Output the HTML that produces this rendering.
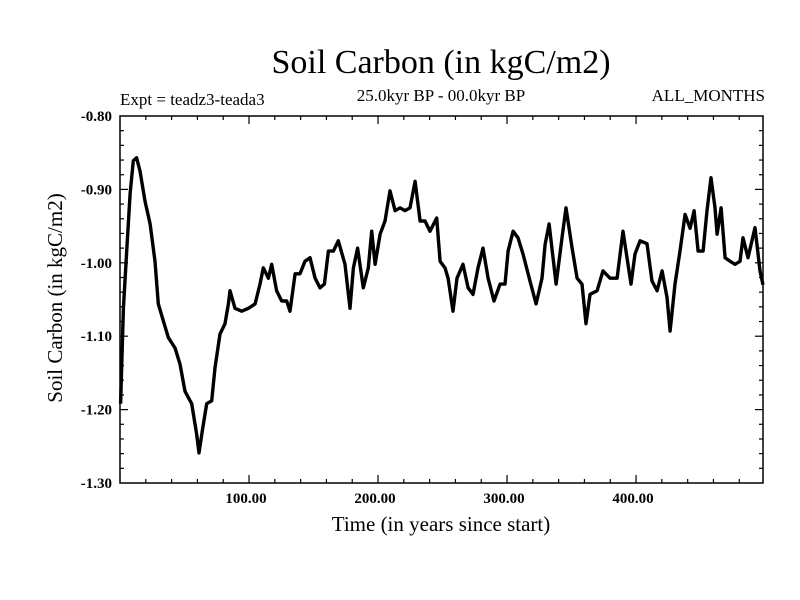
<!DOCTYPE html>
<html><head><meta charset="utf-8"><style>
body{margin:0;background:#fff}
svg{display:block}
text{font-family:"Liberation Serif",serif;fill:#000}
</style></head><body>
<svg id="chart" width="800" height="600" viewBox="0 0 800 600">
<rect x="0" y="0" width="800" height="600" fill="#fff"/>
<text x="441" y="73" font-size="34" text-anchor="middle">Soil Carbon (in kgC/m2)</text>
<text x="120" y="105" font-size="17">Expt = teadz3-teada3</text>
<text x="441" y="101" font-size="17" text-anchor="middle">25.0kyr BP - 00.0kyr BP</text>
<text x="765" y="101" font-size="17" text-anchor="end">ALL_MONTHS</text>
<text x="441" y="531" font-size="21" text-anchor="middle">Time (in years since start)</text>
<text x="0" y="0" font-size="21" text-anchor="middle" transform="translate(62,298) rotate(-90)">Soil Carbon (in kgC/m2)</text>
<g id="axes"></g>
<path id="series" fill="none" stroke="#000" stroke-width="3.4" stroke-linejoin="round"/>
<rect x="120" y="116" width="643" height="367" fill="none" stroke="#000" stroke-width="1.5"/>
</svg>
<script>
const years = [0.5,2.6,5.2,7.8,10.3,12.9,15.5,19.4,23.3,27.1,29.7,33.6,37.5,42.6,46.5,50.4,55.6,59.4,61.2,63.8,67.2,71.1,73.6,77.5,81.4,84.0,85.3,89.1,94.3,99.5,104.7,108.5,111.1,115.0,117.6,121.4,125.3,129.2,131.8,135.7,139.5,143.4,147.3,151.2,155.0,158.4,161.5,165.4,169.2,174.4,178.3,180.9,184.2,188.6,192.5,195.1,197.7,201.6,205.4,209.3,213.2,217.1,220.9,224.8,228.7,232.6,236.4,240.3,245.5,248.1,251.9,254.3,258.1,261.2,265.9,269.8,273.6,277.5,281.4,285.3,289.9,294.6,298.4,300.8,304.7,308.5,312.4,317.8,322.5,327.1,329.5,332.6,338.0,342.6,345.7,350.4,354.3,358.1,361.2,364.3,369.8,374.4,379.8,385.3,389.9,393.0,396.1,399.2,403.1,408.5,412.4,416.3,420.2,424.0,426.4,430.2,434.1,438.0,441.9,445.0,448.1,452.0,455.0,458.1,461.2,462.8,465.9,469.0,472.9,476.7,480.6,482.9,486.8,492.2,496.1,498.4];
const carbon = [-1.192,-1.062,-0.984,-0.906,-0.861,-0.857,-0.875,-0.916,-0.947,-0.998,-1.056,-1.079,-1.102,-1.116,-1.138,-1.175,-1.192,-1.233,-1.259,-1.229,-1.192,-1.188,-1.143,-1.097,-1.083,-1.056,-1.038,-1.062,-1.066,-1.062,-1.056,-1.029,-1.007,-1.021,-1.002,-1.038,-1.052,-1.052,-1.066,-1.015,-1.015,-0.998,-0.993,-1.021,-1.034,-1.029,-0.984,-0.984,-0.970,-1.002,-1.062,-1.007,-0.980,-1.034,-1.007,-0.957,-1.002,-0.961,-0.943,-0.902,-0.929,-0.925,-0.929,-0.925,-0.889,-0.943,-0.943,-0.957,-0.939,-0.998,-1.007,-1.021,-1.066,-1.021,-1.002,-1.034,-1.043,-1.007,-0.980,-1.021,-1.052,-1.029,-1.029,-0.984,-0.957,-0.966,-0.988,-1.025,-1.056,-1.021,-0.975,-0.947,-1.029,-0.966,-0.925,-0.980,-1.021,-1.029,-1.083,-1.043,-1.038,-1.011,-1.021,-1.021,-0.957,-0.993,-1.029,-0.988,-0.970,-0.974,-1.025,-1.038,-1.011,-1.047,-1.093,-1.029,-0.984,-0.934,-0.953,-0.929,-0.984,-0.984,-0.929,-0.884,-0.925,-0.961,-0.925,-0.993,-0.998,-1.002,-0.998,-0.966,-0.993,-0.952,-1.011,-1.030];
const xTickValues = [100,200,300,400];
const xTickLabels = ["100.00","200.00","300.00","400.00"];
const yTickValues = [-0.8,-0.9,-1.0,-1.1,-1.2,-1.3];
const yTickLabels = ["-0.80","-0.90","-1.00","-1.10","-1.20","-1.30"];

const L=120,R=763,T=116,B=483,X0=0,X1=498.4,Y0=-1.3,Y1=-0.8;
function sx(v){return L+(v-X0)/(X1-X0)*(R-L);}
function sy(v){return B-(v-Y0)/(Y1-Y0)*(B-T);}
const NS="http://www.w3.org/2000/svg";
const axes=document.getElementById('axes');
function ln(x1,y1,x2,y2,name){
  const l=document.createElementNS(NS,'line');
  l.setAttribute('x1',x1);l.setAttribute('y1',y1);l.setAttribute('x2',x2);l.setAttribute('y2',y2);
  l.setAttribute('stroke','#000');l.setAttribute('stroke-width','1.2');
  
  
  axes.appendChild(l);
}
function tx(x,y,s,anchor,name){
  const t=document.createElementNS(NS,'text');
  t.setAttribute('x',x);t.setAttribute('y',y);t.setAttribute('font-size','15');t.setAttribute('text-anchor',anchor);
  t.setAttribute('font-weight','600');
  t.textContent=s;
  
  
  axes.appendChild(t);
}
for(let v=20;v<X1;v+=20){
  const major=(v%100===0);const len=major?8:4;const x=sx(v);
  ln(x,B,x,B-len,'x-tick');ln(x,T,x,T+len,'x-tick-top');
}
xTickValues.forEach((v,i)=>tx(sx(v)-3,B+20,xTickLabels[i],'middle','x-tick-label'));
for(let k=1;k<25;k++){
  const v=Y0+k*0.02;const major=(k%5===0);const len=major?8:4;const y=sy(v);
  ln(L,y,L+len,y,'y-tick');ln(R,y,R-len,y,'y-tick-right');
}
yTickValues.forEach((v,i)=>tx(112,sy(v)+5,yTickLabels[i],'end','y-tick-label'));
let d='';
years.forEach((v,i)=>{d+=(i?'L':'M')+sx(v).toFixed(1)+','+sy(carbon[i]).toFixed(1);});
document.getElementById('series').setAttribute('d',d);
</script>
</body></html>
